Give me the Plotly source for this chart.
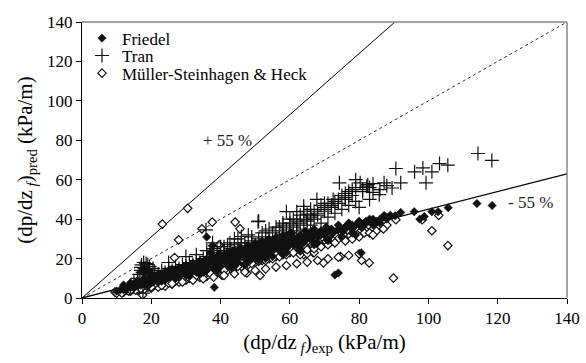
import plotly.graph_objects as go

# ---------------- data ----------------
friedel_x = [10, 11, 12, 12.5, 13, 14, 14.5, 15, 15.5, 16, 16.5, 17, 17.5, 18, 18.5, 19, 19.5, 20, 20.5, 21,
             21.5, 22, 22.5, 23, 23.5, 24, 24.5, 25, 26, 26.5, 27, 27.5, 28, 28.5, 29, 29.5, 30, 30.5, 31, 31.5,
             32, 32.5, 33, 33.5, 34, 34.5, 35, 35.5, 36, 36, 37, 37.6, 38, 38.2, 38.5, 39, 39.5, 40, 40.5, 41,
             41.5, 42, 42.5, 43, 43.5, 44, 44.5, 45, 45.5, 46, 46.5, 47, 47.5, 48, 48.5, 49, 49.5, 50, 51, 51.5,
             52, 52.5, 53, 53.5, 54, 55, 55.5, 56, 57, 57.5, 58, 58.5, 59, 60, 60.5, 61, 62, 62.5, 63, 64,
             64.5, 65, 66, 66.5, 67, 68, 69, 70, 70.5, 71, 72, 72.5, 73, 74, 74, 75, 76, 77, 78, 79,
             80, 80.6, 81, 82, 83, 84, 85, 87.2, 90.4, 92, 95.9, 97.5, 98.8, 101, 102.8, 105.7, 114, 118.4,
             20, 22, 25, 28, 31, 34, 37, 44, 48, 53, 58, 63, 68,
             13, 15, 17, 19, 21, 23, 25, 27, 29, 31, 33, 35, 37, 39, 41, 43, 45, 47, 49, 51,
             53, 55, 57, 59, 61, 63, 65, 67, 69, 71, 24, 27, 30, 33, 36, 39, 42, 45, 48, 51,
             54, 57, 60, 63, 66, 69, 72, 76, 78, 84, 86, 88, 89,
             14, 16, 18, 20, 22, 24, 26, 28, 30, 32, 34, 36, 38, 40, 42, 44, 46, 48, 50, 52,
             54, 56, 58, 60, 62, 64, 66, 68, 70, 72, 74, 76, 78, 80, 82, 84, 86, 88,
             19, 23, 27, 31, 35, 39, 43, 47, 51, 55, 59, 63, 67, 71, 75, 79,
             12, 14, 16, 18, 20, 22, 24, 26, 28, 30, 32, 34, 36, 38, 40, 42, 44, 46, 48, 50,
             52, 54, 56, 58, 60]
friedel_y = [3.5, 4, 4.2, 5, 4.5, 5.5, 6, 5, 6.5, 6, 7, 6.5, 8, 7, 7.5, 8.5, 7, 9, 8, 10,
             9, 11, 9.5, 12, 10, 11, 13, 10.5, 12, 14, 11.5, 13, 15, 12, 14, 16, 13, 15, 12.5, 17,
             14, 16, 13.5, 18, 15, 17, 14, 19, 16, 30.9, 18, 26.5, 15, 5.4, 20, 17, 22, 16, 19, 21,
             18, 23, 17, 20, 24, 19, 22, 18, 25, 21, 23, 20, 26, 22, 19, 24, 27, 21, 25, 28,
             22, 26, 24, 29, 23, 27, 25, 30, 24, 28, 26, 31, 25, 29, 33, 27, 30, 26, 32, 28,
             34, 30, 33, 29, 35, 31, 34, 32, 36, 30, 35, 33, 11.7, 12.7, 37, 34, 36, 38, 35, 37,
             39, 22.9, 36, 38, 40, 37, 39, 41.8, 41.7, 43.4, 43.8, 40, 41.3, 43.8, 43.8, 45.8, 47.9, 46.9,
             12, 8, 14, 11, 16, 12, 23, 16, 25, 20, 22, 24, 28,
             5, 6.5, 8, 9.5, 10, 12, 13, 14, 15, 16, 17, 18, 19, 20, 21, 22, 23, 24, 25, 26,
             27, 28, 29, 30, 31, 31, 32, 33, 34, 35, 9, 10, 11.5, 13, 14, 16, 18, 20, 21, 23,
             24, 26, 27, 29, 30, 32, 33, 35, 33, 40, 38, 40, 42,
             6.8, 7.5, 9, 10.5, 11, 12.5, 12, 13.5, 14, 15.5, 16, 17, 18.5, 19, 20, 21, 22, 23, 23.5, 24,
             25.5, 26.5, 27.5, 28, 29.5, 30, 31, 32, 33, 34, 35, 36, 37, 38, 39, 39, 40, 41,
             6, 8.5, 10, 11, 13, 14, 15.5, 17, 19, 21, 23, 25, 27, 29, 31, 32,
             6.6, 7.7, 8.8, 9.9, 11, 12.1, 13.2, 14.3, 15.4, 16.5, 17.6, 18.7, 19.8, 20.9, 22, 23.1, 24.2, 25.3, 26.4, 27.5,
             28.6, 29.7, 30.8, 31.9, 33]

tran_x = [14, 15, 16, 16.5, 17, 17.2, 17.5, 17.6, 18, 18.5, 19, 19.5, 20, 21, 22, 23, 24, 25, 26, 27,
          28, 29, 30, 31, 32, 33, 34, 35, 35.8, 36, 37, 37.7, 38, 39, 40, 41, 42, 42.7, 43, 44,
          45, 46, 46, 47, 48, 49, 50, 50.8, 51, 51, 52, 53, 54, 55, 56, 57, 58, 58, 59, 59,
          60, 60, 61, 62, 62, 63, 64, 64, 64, 65, 65, 66, 66, 67, 67.8, 68, 69, 70, 70, 71,
          72, 72.5, 73, 74, 74.3, 75, 76, 77, 77, 78, 79, 80, 80.3, 81, 82.2, 82.5, 83, 84, 85.8, 87.2,
          89.5, 90.6, 92, 96, 98.4, 99.3, 101, 103.2, 105.6, 114.3, 118.3,
          18, 18.5, 19, 36, 38, 40, 42, 44, 46, 48, 52, 54, 56, 58, 60, 62, 64, 66, 68, 70,
          72, 74, 76, 78, 62, 66, 70, 76,
          17, 17.8, 18.3, 19.2, 20.5, 25, 30, 33, 39, 41, 45, 49, 53, 57, 61, 63, 65, 67, 69, 71,
          73, 75, 77, 79, 81, 83, 79, 84, 86, 88]
tran_y = [6, 8, 10, 12, 14, 16.8, 13, 2.5, 15, 17.5, 12, 16, 11, 13, 12, 14, 13, 15, 14, 16,
          15, 17, 16, 18, 17, 19, 18, 20, 34.6, 21, 19, 28, 22, 20, 23, 24, 22, 28, 25, 27,
          24, 31.2, 26, 28, 25, 29, 27, 38.7, 30, 39, 28, 31, 29, 33, 30, 34, 32, 38, 35, 43.8,
          33, 40, 36, 34, 43.8, 38, 35, 44, 46.5, 39, 39.7, 37, 45, 40, 50, 42, 38, 44, 48, 41,
          46, 50, 43, 48, 58.4, 45, 50, 47, 52, 52, 49, 46, 58.4, 54, 56.7, 57.5, 50, 53.6, 52.4, 58.4,
          55.8, 65.7, 58.4, 64, 66, 58.4, 64, 68.2, 67.4, 73.3, 69.8,
          13.5, 14.5, 17, 24, 25, 26, 27, 30, 28, 32, 33, 35, 36, 37, 38, 39, 40, 42, 43, 45,
          47, 50, 53, 55, 37, 41, 46, 51,
          15.5, 18, 12.5, 14, 15, 18, 21, 22, 24, 26, 30, 31, 34, 36, 40, 42, 42.5, 44, 47, 48,
          49, 52, 54, 56, 55, 56, 60, 58, 55, 57]

muller_x = [9.5, 10, 11, 12, 13, 14, 15, 16, 17, 17.5, 18, 19, 20, 21, 22, 23, 23.2, 24, 25, 26,
            26.7, 27, 27.9, 28, 29, 30, 30.5, 31, 32, 33, 34, 34.6, 35, 36, 37, 37.6, 38, 39, 39.6, 40,
            40.3, 40.5, 41, 42, 43, 44, 44.2, 45, 45.6, 46, 47, 47.6, 48, 49, 50, 51, 51.4, 52, 53, 54,
            55, 56, 57, 58, 59, 60, 61, 62, 63, 64, 65, 66, 66.7, 67, 68, 69, 69.7, 70, 71, 72,
            73, 74, 74.6, 75, 76, 77, 78, 79, 80, 80.7, 82, 82.9, 84, 86, 88, 89.9, 90.6, 98.2, 101, 103,
            105.6,
            12.5, 14.5, 16.5, 18.5, 20.5, 22.5, 24.5, 26.5, 28.5, 30.5, 32.5, 34.5, 36.5, 38.5, 40.5, 42.5,
            44.5, 46.5, 48.5, 50.5, 52.5, 54.5, 56.5, 58.5, 60.5, 62.5, 64.5, 66.5, 68.5, 70.5, 72.5, 75.5,
            77.5, 79.5, 81.5, 83, 85, 87, 63, 65, 67,
            11.5, 13.5, 15.5, 17, 19, 21, 23, 25, 27, 29, 31, 33, 35, 37, 39, 41, 43, 45, 47, 49,
            51, 53, 55, 57, 59, 61, 63, 65, 67, 69, 71, 73, 76, 78, 80, 84,
            14, 17, 20, 23, 26, 29, 32, 35, 38, 41, 44, 47, 50, 53, 56, 59, 62, 65, 68, 71,
            74, 77, 80]
muller_y = [3, 2.5, 3.5, 3, 4, 3.5, 4.5, 4, 5, 1.5, 4.5, 6, 5, 6.5, 5.5, 7, 37.5, 6, 8, 7,
            20.5, 9, 29.5, 8, 10, 9, 45.5, 11, 10, 12, 10.5, 35.1, 13, 11, 14, 38.5, 12, 15, 27, 13,
            11.7, 11.6, 16, 14, 17, 15, 38.5, 18, 35.1, 16, 19, 12.7, 17, 20, 18, 21, 11.4, 19, 22, 20,
            23, 21, 24, 22, 25, 23, 26, 24, 27, 22, 28, 26, 23, 29, 27, 30, 17.8, 28, 31, 29,
            32, 30, 21, 33, 31, 34, 32, 35, 33, 19, 34, 17.8, 35, 36, 37, 10.1, 39.7, 39.7, 34.1, 41.9,
            26.6,
            4.5, 5, 6, 7, 8, 8.5, 9.5, 10, 11, 12, 13, 13.5, 14.5, 15.5, 16, 17,
            18, 19, 19.5, 20, 21, 22, 22.5, 23.5, 24.5, 25, 26, 27, 28, 28.5, 29, 30,
            31.5, 32, 33, 33, 34, 35, 22, 22.5, 23,
            2.5, 3.5, 4, 6, 5.5, 7, 6.5, 7.5, 8.5, 9.5, 10, 11.5, 11, 12.5, 13.5, 14, 15, 16, 17, 17.5,
            18.5, 19, 20, 21, 22, 23, 24, 24.5, 25, 26, 27, 28, 29, 30, 31, 32,
            3.9, 4.8, 5.6, 6.4, 7.3, 8.1, 9, 9.8, 10.6, 11.5, 12.3, 13.2, 14, 14.8, 15.7, 16.5, 17.4, 18.2, 19, 19.9,
            20.7, 21.6, 22.4]

ref_x = [0, 140]
ref_factors = [1.55, 1.0, 0.45]

ticks = [0, 20, 40, 60, 80, 100, 120, 140]

FONT = "Liberation Serif"
INK = "#000000"

fig = go.Figure()

# reference lines
fig.add_trace(go.Scatter(x=[0, 140 / ref_factors[0]], y=[0, 140], mode="lines",
                         line=dict(color="black", width=1), showlegend=False, hoverinfo="skip"))
fig.add_trace(go.Scatter(x=ref_x, y=[v * ref_factors[1] for v in ref_x], mode="lines",
                         line=dict(color="#333", width=1, dash="dot"), showlegend=False, hoverinfo="skip"))
fig.add_trace(go.Scatter(x=ref_x, y=[v * ref_factors[2] for v in ref_x], mode="lines",
                         line=dict(color="black", width=1.3), showlegend=False, hoverinfo="skip"))

fig.add_trace(go.Scatter(x=muller_x, y=muller_y, mode="markers", name="Müller-Steinhagen &amp; Heck",
                         legend="legend3",
                         marker=dict(symbol="diamond", size=6.5, color="white",
                                     line=dict(color="#111", width=1.2))))
fig.add_trace(go.Scatter(x=friedel_x, y=friedel_y, mode="markers", name="Friedel",
                         legend="legend",
                         marker=dict(symbol="diamond", size=6.5, color="#111",
                                     line=dict(color="#111", width=0.5))))
fig.add_trace(go.Scatter(x=tran_x, y=tran_y, mode="markers", name="Tran",
                         legend="legend2",
                         marker=dict(symbol="cross-thin-open", size=10, color="#111",
                                     line=dict(color="#111", width=1.2))))

leg_common = dict(bgcolor="rgba(0,0,0,0)", font=dict(family=FONT, size=17, color=INK),
                  x=0.0, xanchor="left", yanchor="middle", itemwidth=30)
fig.update_layout(
    legend=dict(y=0.94, **leg_common),
    legend2=dict(y=0.877, **leg_common),
    legend3=dict(y=0.813, **leg_common),
)

fig.add_annotation(x=42, y=80, text="+ 55 %", showarrow=False,
                   font=dict(family=FONT, size=17, color="#222"))
fig.add_annotation(x=129.5, y=48.5, text="- 55 %", showarrow=False,
                   font=dict(family=FONT, size=17, color="#222"))

axis_common = dict(range=[0, 140], tickvals=ticks, ticks="outside", ticklen=5, tickwidth=1,
                   tickcolor="black", showline=True, linecolor="black", linewidth=1,
                   showgrid=False, zeroline=False, automargin=False,
                   tickfont=dict(family=FONT, size=17, color=INK))
fig.update_xaxes(title=dict(text="(dp/dz<sub> <i>f</i></sub>)<sub>exp</sub> (kPa/m)",
                            font=dict(family=FONT, size=21, color=INK), standoff=6),
                 **axis_common)
fig.update_yaxes(title=dict(text="(dp/dz<sub> <i>f</i></sub>)<sub>pred</sub> (kPa/m)",
                            font=dict(family=FONT, size=21, color=INK), standoff=8),
                 **axis_common)

# top and right frame lines (grey)
fig.add_shape(type="line", xref="paper", yref="paper", x0=0, x1=1, y0=1, y1=1,
              line=dict(color="#888", width=1.5))
fig.add_shape(type="line", xref="paper", yref="paper", x0=1, x1=1, y0=0, y1=1,
              line=dict(color="#888", width=1.5))

fig.update_layout(width=586, height=363, margin=dict(l=82, r=19, t=22, b=65),
                  plot_bgcolor="white", paper_bgcolor="white",
                  font=dict(family=FONT, color=INK))

fig.write_html("out.html")
